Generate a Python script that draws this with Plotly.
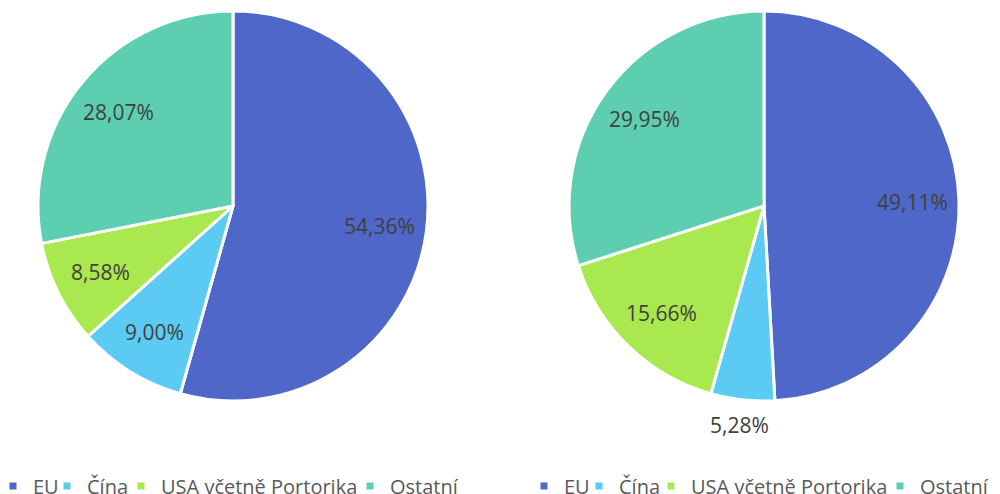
import math
import plotly.graph_objects as go

labels = ["EU", "Čína", "USA včetně Portorika", "Ostatní"]
left_values = [54.36, 9.00, 8.58, 28.07]
right_values = [49.11, 5.28, 15.66, 29.95]
right_outside = [False, True, False, False]
colors = ["#4F67C8", "#5BCBF3", "#A9E84E", "#5DCFB0"]

FONT = "Open Sans"
W, H = 1000, 494
PAGE_OFF = 8  # default body margin of the html page
R = 195
LEFT_C = (233, 206)
RIGHT_C = (764, 206)
IN_FRAC = 0.76
OUT_FRAC = 1.13
# legend text start positions (screen px)
LEFT_LEG_X = [35, 89, 163, 392]
RIGHT_LEG_X = [566, 621, 693, 922]
TEXT_OFF = 42
LEG_Y = 486


def px2x(px):
    return (px - PAGE_OFF) / W


def px2y(py):
    return 1 - (py - PAGE_OFF) / H


def dom(c):
    cx, cy = c
    return dict(x=[px2x(cx - R), px2x(cx + R)], y=[px2y(cy + R), px2y(cy - R)])


def fmt(v):
    return f"{v:.2f}%".replace(".", ",")


def label_annotations(values, center, outside):
    anns = []
    total = sum(values)
    cum = 0.0
    cx, cy = center
    for v, out in zip(values, outside):
        mid = (cum + v / 2) / total * 2 * math.pi
        cum += v
        d = R * (OUT_FRAC if out else IN_FRAC)
        px = cx + math.sin(mid) * d
        py = cy - math.cos(mid) * d
        anns.append(dict(x=px2x(px), y=px2y(py), xref="paper", yref="paper",
                         text=fmt(v), showarrow=False, xanchor="center", yanchor="middle",
                         font=dict(family=FONT, size=21, color="#404040")))
    return anns


fig = go.Figure()
fig.add_trace(go.Pie(
    labels=labels, values=left_values, sort=False, direction="clockwise", rotation=0,
    marker=dict(colors=colors, line=dict(color="white", width=3)),
    textinfo="none", domain=dom(LEFT_C), showlegend=False, hoverinfo="label+value",
))
fig.add_trace(go.Pie(
    labels=labels, values=right_values, sort=False,
    direction="clockwise", rotation=0,
    marker=dict(colors=colors, line=dict(color="white", width=3)),
    textinfo="none", domain=dom(RIGHT_C), showlegend=False, hoverinfo="label+value",
))

legends = {}
k = 0
for xs in (LEFT_LEG_X, RIGHT_LEG_X):
    for i, lab in enumerate(labels):
        k += 1
        lid = "legend" if k == 1 else f"legend{k}"
        fig.add_trace(go.Scatter(
            x=[None], y=[None], mode="markers", name=lab,
            marker=dict(symbol="square", size=7, color=colors[i]),
            showlegend=True, legend=lid, hoverinfo="skip",
        ))
        legends[lid] = dict(
            orientation="h", xanchor="left", yanchor="middle",
            x=px2x(xs[i] - TEXT_OFF), y=px2y(LEG_Y),
            font=dict(family=FONT, size=20, color="#595959"),
            itemwidth=30, bgcolor="rgba(0,0,0,0)", itemclick=False,
            itemdoubleclick=False,
        )

fig.update_xaxes(visible=False)
fig.update_yaxes(visible=False)
fig.update_layout(
    width=W, height=H, margin=dict(l=0, r=0, t=0, b=0, autoexpand=False),
    paper_bgcolor="white", plot_bgcolor="rgba(0,0,0,0)",
    annotations=label_annotations(left_values, LEFT_C, [False] * 4)
    + label_annotations(right_values, RIGHT_C, right_outside),
    showlegend=True,
    **legends,
)
fig.write_html("out.html")
